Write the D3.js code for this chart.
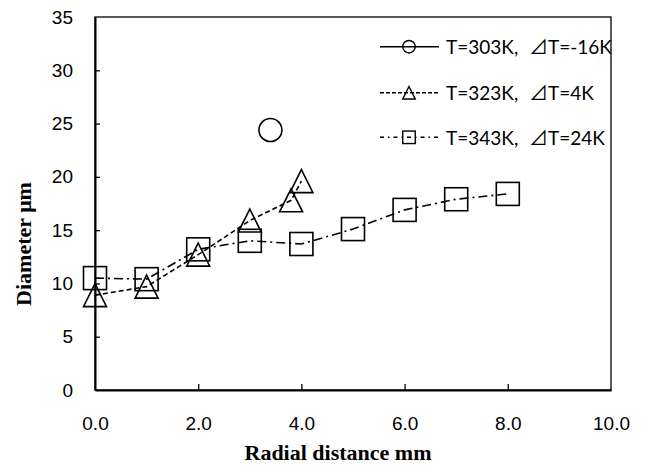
<!DOCTYPE html>
<html>
<head>
<meta charset="utf-8">
<script src="https://cdn.jsdelivr.net/npm/d3@7"></script>
<style>
  body { margin: 0; background: #fff; }
  svg { display: block; }
</style>
</head>
<body>
<div id="chart"></div>
<script>
// 数据
const xTicks = [0, 2, 4, 6, 8, 10]
const yTicks = [0, 5, 10, 15, 20, 25, 30, 35]

const x303 = [3.4]
const y303 = [24.4]
const x323 = [0, 1, 2, 3, 3.8, 4]
const y323 = [8.9, 9.7, 12.7, 15.9, 17.8, 19.6]
const x343 = [0, 1, 2, 3, 4, 5, 6, 7, 8]
const y343 = [10.5, 10.4, 13.2, 14.0, 13.7, 15.1, 16.9, 17.9, 18.4]

const legendA = ['T=303K,', 'T=323K,', 'T=343K,']
const legendB = ['T=-16K', 'T=4K', 'T=24K']

// 画布
const width = 647
const height = 466
const svg = d3.select('#chart').append('svg').attr('width', width).attr('height', height)

const xScale = d3.scaleLinear().domain([0, 10]).range([95, 611])
const yScale = d3.scaleLinear().domain([0, 35]).range([390, 17])

// 边框
svg.append('rect').attr('x', 95).attr('y', 17).attr('width', 611 - 95).attr('height', 390 - 17)
  .attr('fill', 'none').attr('stroke', '#000').attr('stroke-width', 1.3)

// 坐标轴
const xAxis = d3.axisBottom(xScale).tickValues(xTicks).tickFormat(d3.format('.1f'))
  .tickSizeInner(-6).tickSizeOuter(0).tickPadding(27)
const yAxis = d3.axisLeft(yScale).tickValues(yTicks).tickFormat(d3.format('d'))
  .tickSizeInner(-5).tickSizeOuter(0).tickPadding(22)

const gx = svg.append('g').attr('transform', 'translate(0,390)').call(xAxis)
const gy = svg.append('g').attr('transform', 'translate(95,0)').call(yAxis)
for (const g of [gx, gy]) {
  g.select('.domain').attr('stroke', '#000').attr('stroke-width', 2)
  g.selectAll('.tick line').attr('stroke', '#000').attr('stroke-width', 1.3)
  g.selectAll('.tick text').attr('fill', '#000').attr('font-family', "'Liberation Sans', Arial, sans-serif").attr('font-size', 19)
}
gx.selectAll('.tick').filter(d => d === 0 || d === 10).select('line').remove()
gy.selectAll('.tick').filter(d => d === 0 || d === 35).select('line').remove()

// 轴标题
svg.append('text').text('Radial distance mm')
  .attr('x', 338).attr('y', 460).attr('text-anchor', 'middle')
  .attr('font-family', "'Liberation Serif', 'Times New Roman', serif").attr('font-weight', 'bold').attr('font-size', 22)
svg.append('text').text('Diameter \u03BCm')
  .attr('transform', 'translate(31,244) rotate(-90)').attr('text-anchor', 'middle')
  .attr('font-family', "'Liberation Serif', 'Times New Roman', serif").attr('font-weight', 'bold').attr('font-size', 22)

// 画线和点
const pts = (xs, ys) => xs.map((v, i) => [xScale(v), yScale(ys[i])])
const line = d3.line()

svg.append('path').attr('d', line(pts(x323, y323))).attr('fill', 'none')
  .attr('stroke', '#000').attr('stroke-width', 1.6).attr('stroke-dasharray', '5,3')
svg.append('path').attr('d', line(pts(x343, y343))).attr('fill', 'none')
  .attr('stroke', '#000').attr('stroke-width', 1.6).attr('stroke-dasharray', '9,4,2,4')

function marker(g, type, cx, cy, s) {
  if (type === 'circle') {
    g.append('circle').attr('cx', cx).attr('cy', cy).attr('r', s / 2)
  } else if (type === 'square') {
    g.append('rect').attr('x', cx - s / 2).attr('y', cy - s / 2).attr('width', s).attr('height', s)
  } else {
    g.append('path').attr('d', `M${cx},${cy - s / 2}L${cx + s / 2},${cy + s / 2}L${cx - s / 2},${cy + s / 2}Z`)
  }
}

const gm = svg.append('g').attr('fill', 'none').attr('stroke', '#000').attr('stroke-width', 1.6)
pts(x303, y303).forEach(p => marker(gm, 'circle', p[0], p[1], 23))
pts(x323, y323).forEach(p => marker(gm, 'triangle', p[0], p[1], 23))
pts(x343, y343).forEach(p => marker(gm, 'square', p[0], p[1], 23))

// 图例
const types = ['circle', 'triangle', 'square']
const dashes = [null, '4,2', '4,4,1.5,4']
const rowY = [46.7, 92.7, 137.3]
types.forEach((t, i) => {
  const y = rowY[i]
  svg.append('line').attr('x1', 380).attr('x2', 439).attr('y1', y).attr('y2', y)
    .attr('stroke', '#000').attr('stroke-width', 1.4).attr('stroke-dasharray', dashes[i])
  const lg = svg.append('g').attr('fill', 'none').attr('stroke', '#000').attr('stroke-width', 1.4)
  marker(lg, t, 409, y, 12.5)
  svg.append('text').text(legendA[i]).attr('x', 446).attr('y', y + 7.5)
    .attr('font-family', "Lato, 'DejaVu Sans', sans-serif").attr('font-size', 19)
  const tb = svg.append('text').attr('x', 529).attr('y', y + 7.5)
    .attr('font-family', "Lato, 'DejaVu Sans', sans-serif").attr('font-size', 19)
  tb.append('tspan').text('\u22BF').attr('font-family', "'Noto Sans CJK JP', 'DejaVu Sans', sans-serif").attr('font-size', 19)
  tb.append('tspan').text(legendB[i])
})
</script>
</body>
</html>
